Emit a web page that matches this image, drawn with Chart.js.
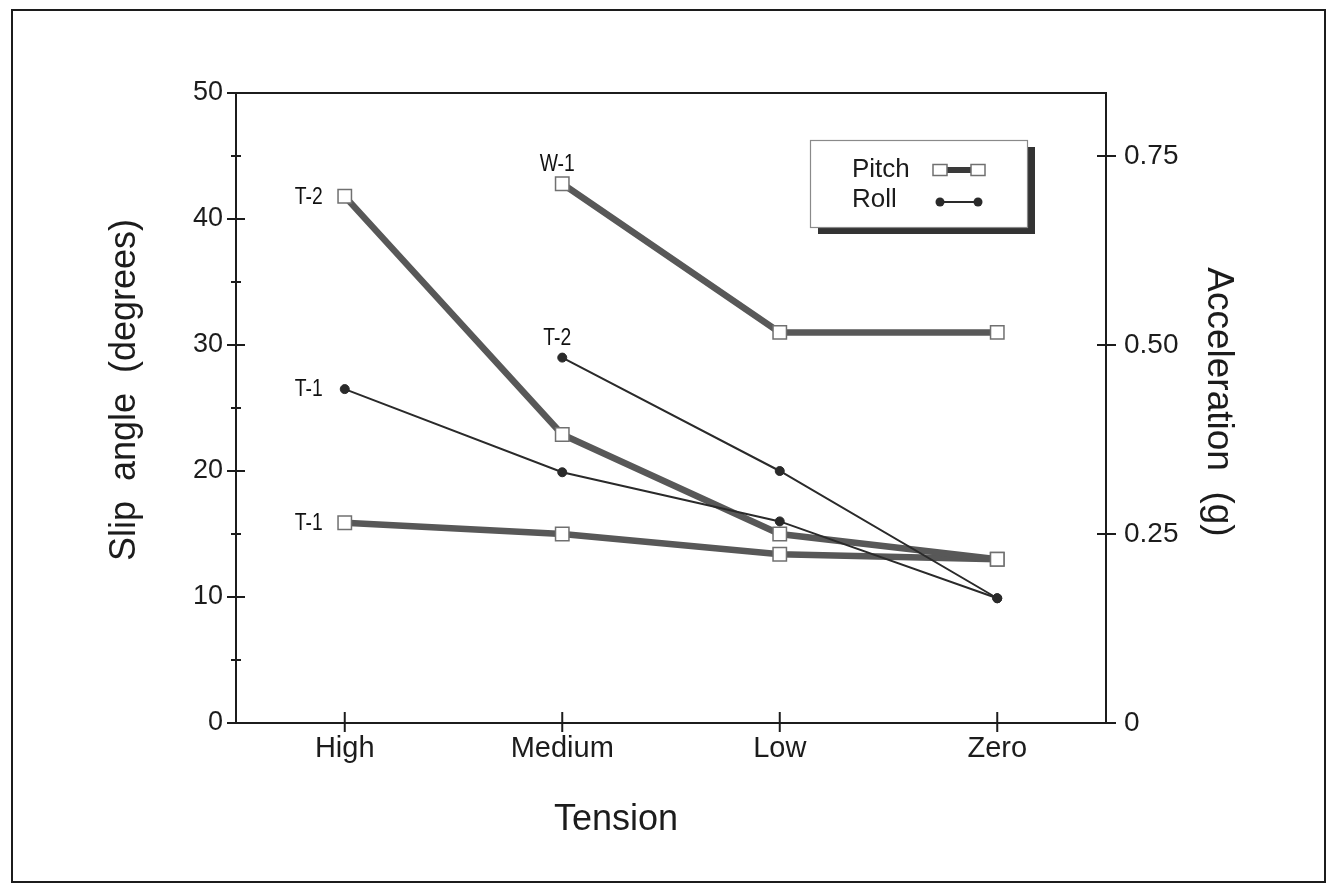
<!DOCTYPE html>
<html>
<head>
<meta charset="utf-8">
<script src="https://cdn.jsdelivr.net/npm/chart.js@4.4.1/dist/chart.umd.min.js"></script>
<style>
  html, body { margin: 0; padding: 0; background: #ffffff; }
  #wrap { width: 1333px; height: 885px; }
</style>
</head>
<body>
<div id="wrap"><canvas id="c" width="1333" height="885"></canvas></div>
<script>
// ---------------- data ----------------
const categories = ['High', 'Medium', 'Low', 'Zero'];

const pitchT2 = [41.8, 22.9, 15.0, 13.0];
const pitchT1 = [15.9, 15.0, 13.4, 13.0];
const pitchW1 = [null, 42.8, 31.0, 31.0];
const rollT1  = [26.5, 19.9, 16.0, 9.9];
const rollT2  = [null, 29.0, 20.0, 9.9];

const pitchLabels = ['T-2', 'T-1', 'W-1'];
const rollLabels  = ['T-1', 'T-2'];

const slipTicks  = [0, 5, 10, 15, 20, 25, 30, 35, 40, 45, 50];
const accelTicks = [0, 0.25, 0.5, 0.75];
const slipMax = 50;
const accelMax = 50 / 60;   // 1 g corresponds to 60 degrees on the twin axis

const legendNames = ['Pitch', 'Roll'];
const axisTitles = { left: 'Slip  angle  (degrees)', right: 'Acceleration  (g)', bottom: 'Tension' };

// ---------------- styles ----------------
const FONT = '"Liberation Sans", Arial, Helvetica, sans-serif';
const INK = '#1c1c1c';
const PITCH_LINE = '#585858';
const ROLL_LINE = '#2a2a2a';

function pitchDs(data, label) {
  return {
    label: label, data: data, yAxisID: 'y', kind: 'pitch', tag: label,
    borderColor: PITCH_LINE, borderWidth: 6.5,
    pointStyle: 'rect', pointRadius: 9.5, pointHoverRadius: 9.5,
    pointBackgroundColor: '#ffffff', pointBorderColor: '#707070', pointBorderWidth: 1.5,
    tension: 0, spanGaps: false, fill: false
  };
}
function rollDs(data, label) {
  return {
    label: label, data: data, yAxisID: 'y', kind: 'roll', tag: label,
    borderColor: ROLL_LINE, borderWidth: 2,
    pointStyle: 'circle', pointRadius: 4.5, pointHoverRadius: 4.5,
    pointBackgroundColor: ROLL_LINE, pointBorderColor: ROLL_LINE, pointBorderWidth: 1,
    tension: 0, spanGaps: false, fill: false
  };
}

// roll first so that it is painted on top of the thick pitch bands
const datasets = [
  rollDs(rollT1, rollLabels[0]),
  rollDs(rollT2, rollLabels[1]),
  pitchDs(pitchT2, pitchLabels[0]),
  pitchDs(pitchT1, pitchLabels[1]),
  pitchDs(pitchW1, pitchLabels[2])
];

// ---------------- plugins ----------------
const framePlugin = {
  id: 'frame',
  beforeDraw(chart) {
    const ctx = chart.ctx;
    ctx.save();
    ctx.fillStyle = '#ffffff';
    ctx.fillRect(0, 0, chart.width, chart.height);
    ctx.restore();
  },
  beforeDatasetsDraw(chart) {
    const { ctx, chartArea: a, scales } = chart;
    ctx.save();
    ctx.strokeStyle = INK;
    ctx.lineWidth = 2;
    // outer frame of the figure
    ctx.strokeRect(12, 10, 1313, 872);
    // plot rectangle
    ctx.strokeRect(a.left, a.top, a.right - a.left, a.bottom - a.top);
    // left axis tick marks (crossing the axis)
    slipTicks.forEach(v => {
      const py = scales.y.getPixelForValue(v);
      const major = v % 10 === 0;
      const L = major ? 9 : 5;
      ctx.beginPath();
      ctx.moveTo(a.left - L, py); ctx.lineTo(a.left + L, py);
      ctx.stroke();
    });
    // right axis tick marks
    accelTicks.forEach(v => {
      const py = scales.y1.getPixelForValue(v);
      ctx.beginPath();
      ctx.moveTo(a.right - 9, py); ctx.lineTo(a.right + 10, py);
      ctx.stroke();
    });
    // category tick marks
    categories.forEach((c, i) => {
      const px = scales.x.getPixelForValue(i);
      ctx.beginPath();
      ctx.moveTo(px, a.bottom - 11); ctx.lineTo(px, a.bottom + 9);
      ctx.stroke();
    });
    ctx.restore();
  },
  afterDraw(chart) {
    const { ctx, chartArea: a } = chart;
    ctx.save();
    ctx.fillStyle = INK;

    // axis titles
    ctx.font = '36px ' + FONT;
    ctx.textAlign = 'center';
    ctx.textBaseline = 'alphabetic';
    ctx.save();
    ctx.translate(a.left - 101, (a.top + a.bottom) / 2 - 18);
    ctx.rotate(-Math.PI / 2);
    ctx.fillText(axisTitles.left, 0, 0);
    ctx.restore();

    ctx.font = '37px ' + FONT;
    ctx.save();
    ctx.translate(a.right + 102, (a.top + a.bottom) / 2 - 6);
    ctx.rotate(Math.PI / 2);
    ctx.fillText(axisTitles.right, 0, 0);
    ctx.restore();

    ctx.font = '36px ' + FONT;
    ctx.fillText(axisTitles.bottom, (a.left + a.right) / 2 - 55, a.bottom + 107);

    // series annotations next to the first point of each line
    ctx.font = '23px ' + FONT;
    ctx.fillStyle = '#111111';
    chart.data.datasets.forEach((ds, di) => {
      const meta = chart.getDatasetMeta(di);
      const idx = ds.data.findIndex(v => v !== null);
      const pt = meta.data[idx];
      if (!pt) return;
      ctx.save();
      if (idx === 0) {
        ctx.translate(pt.x - 22, pt.y + 1);
        ctx.scale(0.84, 1);
        ctx.textAlign = 'right';
        ctx.textBaseline = 'middle';
        ctx.fillText(ds.tag, 0, 0);
      } else {
        ctx.translate(pt.x - 5, pt.y - 19);
        ctx.scale(0.84, 1);
        ctx.textAlign = 'center';
        ctx.textBaseline = 'middle';
        ctx.fillText(ds.tag, 0, 0);
      }
      ctx.restore();
    });

    // legend box with drop shadow
    const bx = a.right - 296, by = a.top + 47, bw = 217, bh = 87;
    ctx.fillStyle = '#333333';
    ctx.fillRect(bx + 8, by + 7, bw, bh);
    ctx.fillStyle = '#ffffff';
    ctx.fillRect(bx, by, bw, bh);
    ctx.strokeStyle = '#8a8a8a';
    ctx.lineWidth = 1.2;
    ctx.strokeRect(bx + 0.5, by + 0.5, bw, bh);

    ctx.fillStyle = INK;
    ctx.font = '26px ' + FONT;
    ctx.textAlign = 'left';
    ctx.textBaseline = 'alphabetic';
    ctx.fillText(legendNames[0], bx + 42, by + 37);
    ctx.fillText(legendNames[1], bx + 42, by + 67);

    // pitch sample
    const py = by + 30;
    ctx.strokeStyle = '#3a3a3a';
    ctx.lineWidth = 6;
    ctx.beginPath(); ctx.moveTo(bx + 130, py); ctx.lineTo(bx + 168, py); ctx.stroke();
    ctx.fillStyle = '#ffffff';
    ctx.strokeStyle = '#707070';
    ctx.lineWidth = 1.5;
    [bx + 130, bx + 168].forEach(cx => {
      ctx.fillRect(cx - 7, py - 5.5, 14, 11);
      ctx.strokeRect(cx - 7, py - 5.5, 14, 11);
    });
    // roll sample
    const ry = by + 62;
    ctx.strokeStyle = ROLL_LINE;
    ctx.lineWidth = 2;
    ctx.beginPath(); ctx.moveTo(bx + 130, ry); ctx.lineTo(bx + 168, ry); ctx.stroke();
    ctx.fillStyle = ROLL_LINE;
    [bx + 130, bx + 168].forEach(cx => {
      ctx.beginPath(); ctx.arc(cx, ry, 4.5, 0, Math.PI * 2); ctx.fill();
    });

    ctx.restore();
  }
};

// ---------------- chart ----------------
new Chart(document.getElementById('c'), {
  type: 'line',
  data: { labels: categories, datasets: datasets },
  plugins: [framePlugin],
  options: {
    responsive: false,
    animation: false,
    devicePixelRatio: 1,
    layout: { padding: { top: 93, left: 0, right: 0, bottom: 0 } },
    plugins: { legend: { display: false }, tooltip: { enabled: false } },
    scales: {
      x: {
        type: 'category',
        offset: true,
        grid: { display: false, drawTicks: false },
        border: { display: false },
        ticks: { color: INK, font: { family: FONT, size: 29 }, padding: 9, maxRotation: 0 },
        afterFit(s) { s.height = 162; }
      },
      y: {
        position: 'left',
        min: 0, max: slipMax,
        grid: { display: false, drawTicks: false },
        border: { display: false },
        afterBuildTicks(s) { s.ticks = slipTicks.map(v => ({ value: v })); },
        ticks: {
          color: INK, font: { family: FONT, size: 27 }, padding: 13,
          callback: v => (v % 10 === 0 ? String(v) : '')
        },
        afterFit(s) { s.width = 236; }
      },
      y1: {
        position: 'right',
        min: 0, max: accelMax,
        grid: { display: false, drawTicks: false },
        border: { display: false },
        afterBuildTicks(s) { s.ticks = accelTicks.map(v => ({ value: v })); },
        ticks: {
          color: INK, font: { family: FONT, size: 28 }, padding: 18,
          callback: v => (v === 0 ? '0' : Number(v).toFixed(2))
        },
        afterFit(s) { s.width = 227; }
      }
    }
  }
});
</script>
</body>
</html>
